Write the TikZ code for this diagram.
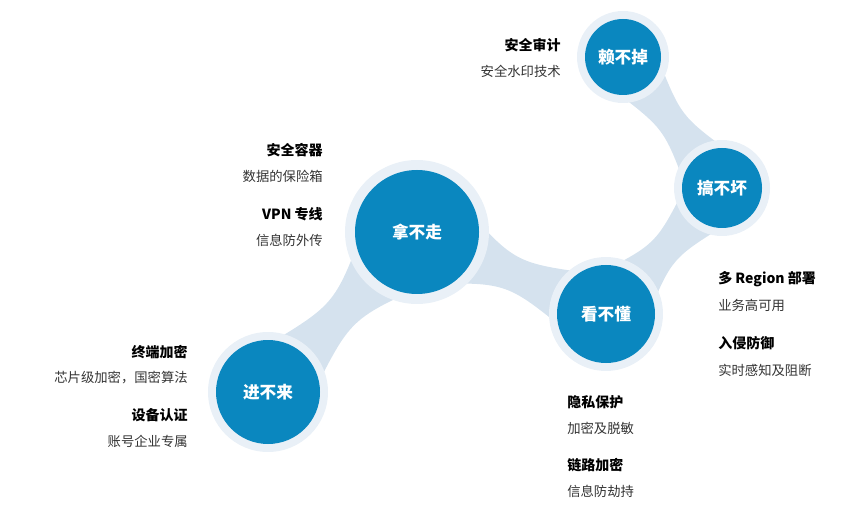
\documentclass[tikz,border=0pt]{standalone}
\usepackage{fontspec}
\setmainfont{Noto Sans CJK SC}
\usetikzlibrary{calc}
\definecolor{cblue}{HTML}{0A87BF}
\definecolor{ring}{HTML}{E9F0F7}
\definecolor{band}{HTML}{D5E2EE}
\definecolor{txt}{HTML}{333333}
\tikzset{
  hd/.style={font=\fontsize{10.5}{12}\selectfont\bfseries, text=black, inner sep=0pt},
  sb/.style={font=\fontsize{10}{12}\selectfont, text=txt, inner sep=0pt},
  ctext/.style={font=\fontsize{12.5}{14}\selectfont\bfseries, text=white},
}
\newcommand{\mybridge}[4]{%
  \coordinate (m) at ($(#1)!.5!(#2)$);
  \fill[band] ($(#1)!#3pt!52:(#2)$) .. controls ($(m)!8pt!90:(#2)$) .. ($(#2)!#4pt!-52:(#1)$)
    -- ($(#2)!#4pt!52:(#1)$) .. controls ($(m)!8pt!-90:(#2)$) .. ($(#1)!#3pt!-52:(#2)$) -- cycle;}
\begin{document}
\begin{tikzpicture}[x=0.75pt,y=-0.75pt]
\useasboundingbox (0,0) rectangle (852,509);
\coordinate (c1) at (268,392);
\coordinate (c2) at (417,232);
\coordinate (c3) at (606,314);
\coordinate (c4) at (722,188);
\coordinate (c5) at (623,57);
\mybridge{c1}{c2}{33}{40}
\mybridge{c2}{c3}{40}{31}
\mybridge{c3}{c4}{31}{27}
\mybridge{c4}{c5}{27}{26}
\foreach \c/\r/\R in {c1/52/60, c2/62/72, c3/49/57, c4/40/48, c5/38/46}{
  \fill[ring] (\c) circle (\R*0.75pt);
  \fill[cblue] (\c) circle (\r*0.75pt);
}
\node[ctext] (n1) at (c1) {进不来};
\node[ctext] (n2) at (c2) {拿不走};
\node[ctext] (n3) at (c3) {看不懂};
\node[ctext] (n4) at (c4) {搞不坏};
\node[ctext] (n5) at (c5) {赖不掉};
% labels
\node[hd,anchor=east] (a1) at (561,45) {安全审计};
\node[sb,anchor=east] (a2) at (561,71) {安全水印技术};
\node[hd,anchor=east] (b1) at (323,150) {安全容器};
\node[sb,anchor=east] (b2) at (323,176) {数据的保险箱};
\node[hd,anchor=east] (b3) at (323,214) {VPN 专线};
\node[sb,anchor=east] (b4) at (323,240) {信息防外传};
\node[hd,anchor=east] (d1) at (188,352) {终端加密};
\node[sb,anchor=east] (d2) at (188,378) {芯片级加密，国密算法};
\node[hd,anchor=east] (d3) at (188,415) {设备认证};
\node[sb,anchor=east] (d4) at (188,441) {账号企业专属};
\node[hd,anchor=west] (e1) at (567,402) {隐私保护};
\node[sb,anchor=west] (e2) at (567,428) {加密及脱敏};
\node[hd,anchor=west] (e3) at (567,465) {链路加密};
\node[sb,anchor=west] (e4) at (567,491) {信息防劫持};
\node[hd,anchor=west] (f1) at (718,279) {多 Region 部署};
\node[sb,anchor=west] (f2) at (718,305) {业务高可用};
\node[hd,anchor=west] (f3) at (718,343) {入侵防御};
\node[sb,anchor=west] (f4) at (718,370) {实时感知及阻断};
\end{tikzpicture}
\end{document}
